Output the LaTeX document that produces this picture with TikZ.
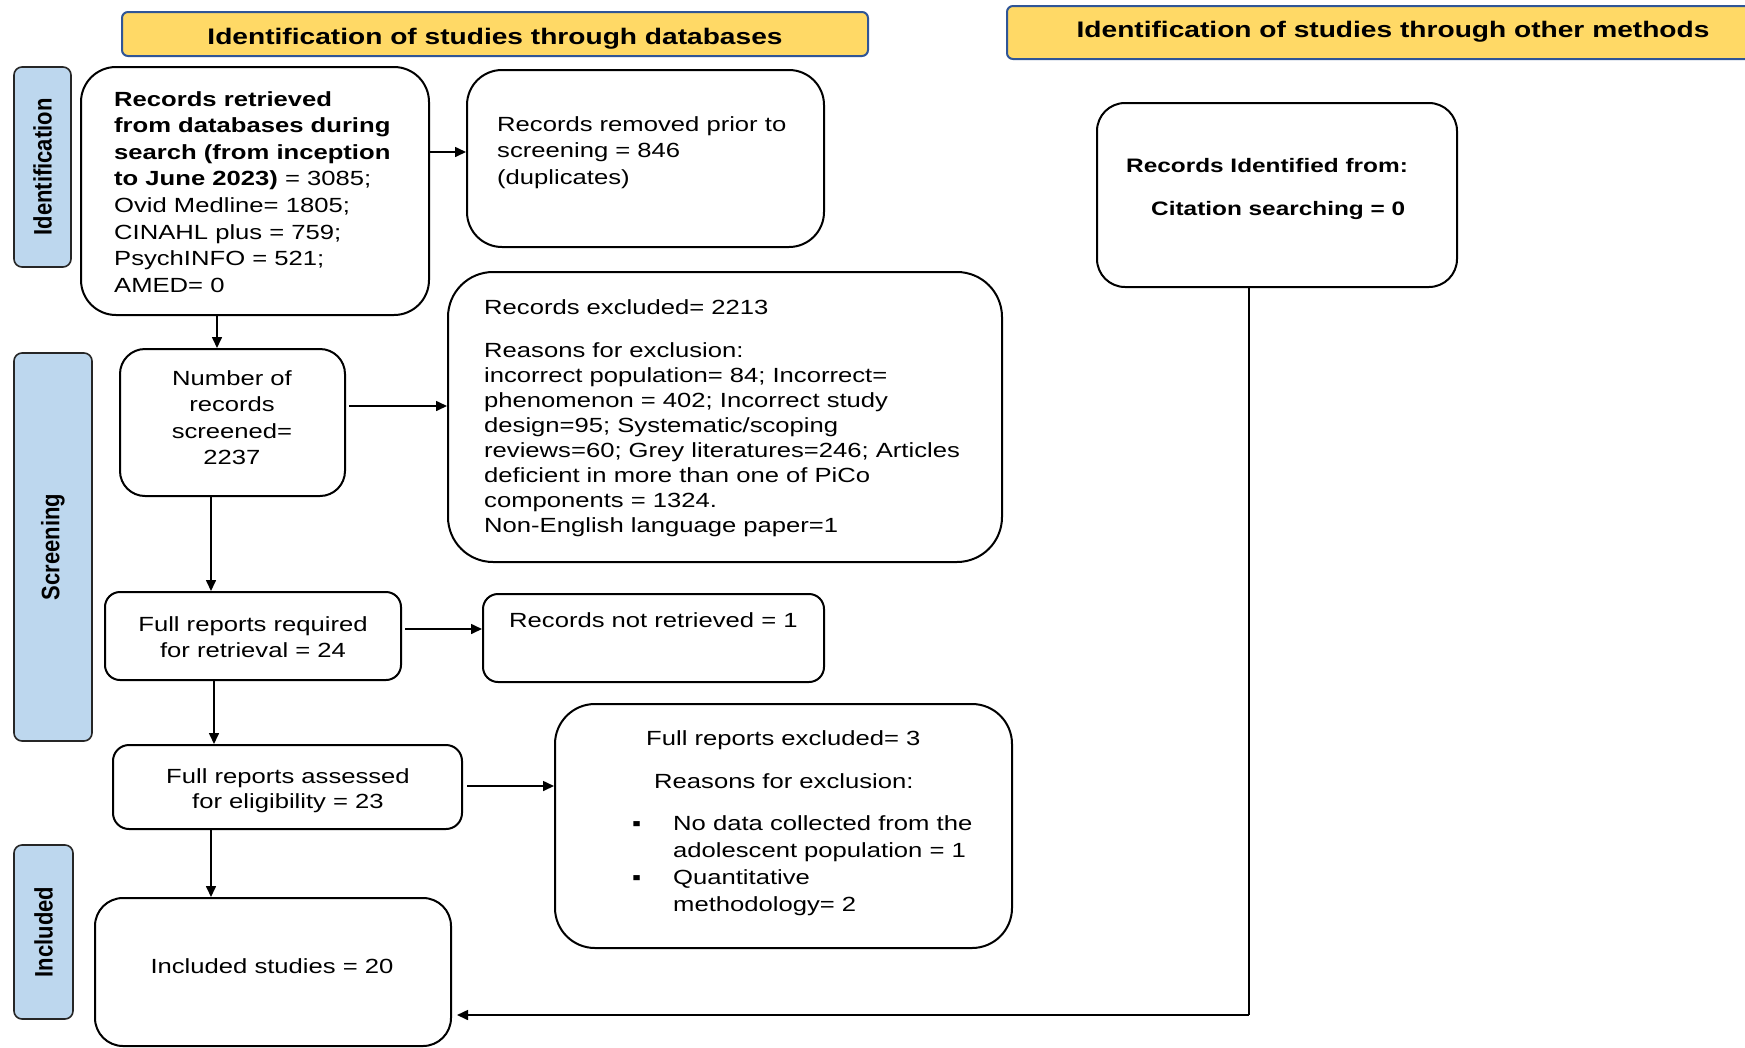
\documentclass[tikz,border=0pt]{standalone}
\usepackage{fontspec}
\setmainfont{Liberation Sans}[FakeStretch=1.25]
\newfontfamily\rotfont{Liberation Sans}
\usetikzlibrary{arrows.meta}
\definecolor{hdrfill}{HTML}{FFD966}
\definecolor{hdrline}{HTML}{2F5597}
\definecolor{lblfill}{HTML}{BDD7EE}
\tikzset{
  box/.style={draw=black, line width=2pt, fill=white, inner sep=0pt},
  hdr/.style={draw=hdrline, line width=2pt, fill=hdrfill, rounded corners=6pt, inner sep=0pt,
              font=\bfseries\fontsize{22.5}{27}\selectfont},
  lbl/.style={draw=black!85, line width=1.6pt, fill=lblfill, rounded corners=8pt, inner sep=0pt},
  txt/.style={inner sep=0pt, font=\fontsize{20.5}{26.6}\selectfont, align=left},
  ctxt/.style={inner sep=0pt, font=\fontsize{20.5}{26.6}\selectfont, align=center},
  btxt/.style={inner sep=0pt, font=\bfseries\fontsize{19.5}{24}\selectfont},
  arr/.style={line width=1.6pt, -{Triangle[length=11pt,width=10pt]}},
  ln/.style={line width=1.3pt},
}
\newcommand{\sidelabel}[1]{\scalebox{1.15}[1]{\rotatebox{90}{\rotfont\bfseries\fontsize{22}{26}\selectfont #1}}}
\begin{document}
\begin{tikzpicture}[x=1pt,y=-1pt]
\useasboundingbox (0,0) rectangle (1745,1047);
\clip (0,0) rectangle (1745,1047);
\fill[white] (0,0) rectangle (1745,1047);

% headers
\node[hdr, minimum width=746pt, minimum height=44pt, text height=20pt, text depth=0pt] (h1) at (495,34)
  {Identification of studies through databases};
\node[hdr, minimum width=772pt, minimum height=53pt, text height=12pt, text depth=2.4pt] (h2) at (1393,32.5)
  {Identification of studies through other methods};

% side labels
\node[lbl, minimum width=57pt, minimum height=200pt] (l1) at (42.5,167) {\sidelabel{Identification}};
\node[lbl, minimum width=78pt, minimum height=388pt] (l2) at (53,547) {\sidelabel{Screening}};
\node[lbl, minimum width=59pt, minimum height=174pt] (l3) at (43.5,932) {\sidelabel{Included}};

% boxes
\node[box, rounded corners=35pt, minimum width=348pt, minimum height=248pt] (b1) at (255,191) {};
\node[box, rounded corners=35pt, minimum width=357pt, minimum height=177pt] (b2) at (645.5,158.5) {};
\node[box, rounded corners=45pt, minimum width=554pt, minimum height=290pt] (b3) at (725,417) {};
\node[box, rounded corners=25pt, minimum width=225pt, minimum height=147pt] (b4) at (232.5,422.5) {};
\node[box, rounded corners=15pt, minimum width=296pt, minimum height=88pt] (b5) at (253,636) {};
\node[box, rounded corners=15pt, minimum width=341pt, minimum height=88pt] (b6) at (653.5,638) {};
\node[box, rounded corners=16pt, minimum width=349pt, minimum height=84pt] (b7) at (287.5,787) {};
\node[box, rounded corners=40pt, minimum width=457pt, minimum height=244pt] (b8) at (783.5,826) {};
\node[box, rounded corners=28pt, minimum width=356pt, minimum height=148pt] (b9) at (273,972) {};
\node[box, rounded corners=28pt, minimum width=360pt, minimum height=184pt] (b10) at (1277,195) {};

% texts
\node[txt, anchor=north west] (t1) at (114,91)
  {\textbf{Records retrieved}\\
   \textbf{from databases during}\\
   \textbf{search (from inception}\\
   \textbf{to June 2023)} = 3085;\\
   Ovid Medline= 1805;\\
   CINAHL plus = 759;\\
   PsychINFO = 521;\\
   AMED= 0};
\node[txt, anchor=north west] (t2) at (497,116)
  {Records removed prior to\\ screening = 846\\ (duplicates)};
\node[txt, anchor=north west] (t3a) at (484,299) {Records excluded= 2213};
\node[txt, anchor=north west, font=\fontsize{20.5}{25.1}\selectfont] (t3b) at (484,342)
  {Reasons for exclusion:\\
   incorrect population= 84; Incorrect=\\
   phenomenon = 402; Incorrect study\\
   design=95; Systematic/scoping\\
   reviews=60; Grey literatures=246; Articles\\
   deficient in more than one of PiCo\\
   components = 1324.\\
   Non-English language paper=1};
\node[ctxt, anchor=north] (t4) at (232,370) {Number of\\ records\\ screened=\\ 2237};
\node[ctxt, anchor=north, font=\fontsize{20.5}{26}\selectfont] (t5) at (253,616)
  {Full reports required\\ for retrieval = 24};
\node[txt, anchor=north west] (t6) at (509,612) {Records not retrieved = 1};
\node[ctxt, anchor=north, font=\fontsize{20.5}{25}\selectfont] (t7) at (288,768)
  {Full reports assessed\\ for eligibility = 23};
\node[txt, anchor=north west] (t8a) at (646,730) {Full reports excluded= 3};
\node[txt, anchor=north west] (t8b) at (654,773) {Reasons for exclusion:};
\node[txt, anchor=north west, font=\fontsize{20.5}{27}\selectfont] (t8c) at (632,815)
  {\makebox[41pt][l]{▪}No data collected from the\\
   \hspace*{41pt}adolescent population = 1\\
   \makebox[41pt][l]{▪}Quantitative\\
   \hspace*{41pt}methodology= 2};
\node[txt, anchor=base] (t9) at (272,973) {Included studies = 20};
\node[btxt, anchor=base west] (t10a) at (1126,172) {Records Identified from:};
\node[btxt, anchor=base west] (t10b) at (1151,215) {Citation searching = 0};

% connectors
\coordinate (yA) at (0,152);
\coordinate (xA) at (217,0);
\coordinate (yB) at (0,406);
\coordinate (xB) at (211,0);
\coordinate (yC) at (0,629);
\coordinate (xC) at (214,0);
\coordinate (yD) at (0,786);
\coordinate (xD) at (211,0);
\coordinate (cor) at (1249,1015);

\draw[arr] (b1.east |- yA) -- (b2.west |- yA);
\draw[arr] (b1.south -| xA) -- (b4.north -| xA);
\draw[arr] ([xshift=3pt]b4.east |- yB) -- (b3.west |- yB);
\draw[arr] (b4.south -| xB) -- (b5.north -| xB);
\draw[arr] ([xshift=3pt]b5.east |- yC) -- (b6.west |- yC);
\draw[arr] (b5.south -| xC) -- (b7.north -| xC);
\draw[arr] ([xshift=4pt]b7.east |- yD) -- (b8.west |- yD);
\draw[arr] (b7.south -| xD) -- (b9.north -| xD);
\draw[ln] (b10.south -| cor) -- (cor);
\draw[arr, shorten >=5pt] (cor) -- (b9.east |- cor);
\end{tikzpicture}
\end{document}
